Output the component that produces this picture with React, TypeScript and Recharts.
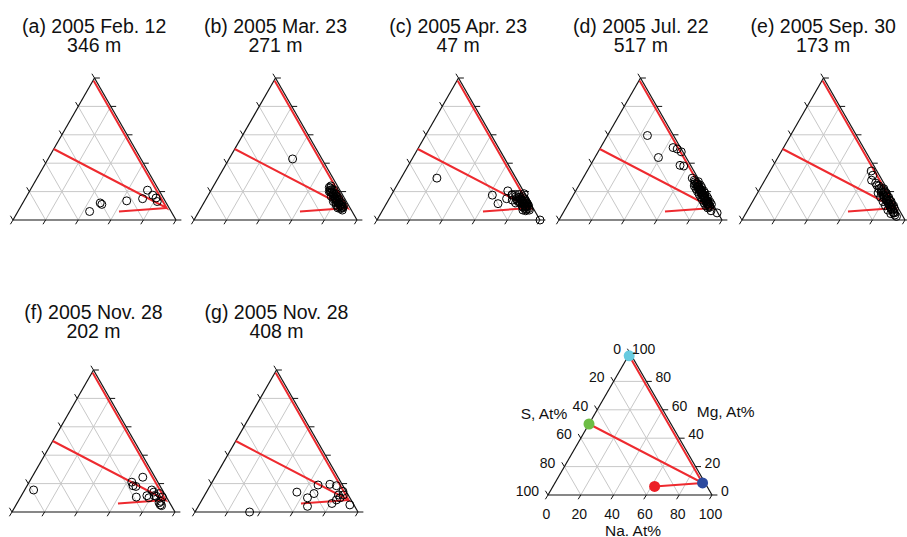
import React from "react";
import { ScatterChart, Scatter, XAxis, YAxis, ReferenceLine } from "recharts";

// composition triples: [Na, Mg, S] in at%
type Comp = [number, number, number];

const panelTitles = [
  "(a) 2005 Feb. 12",
  "(b) 2005 Mar. 23",
  "(c) 2005 Apr. 23",
  "(d) 2005 Jul. 22",
  "(e) 2005 Sep. 30",
  "(f) 2005 Nov. 28",
  "(g) 2005 Nov. 28",
];
const panelDepths = ["346 m", "271 m", "47 m", "517 m", "173 m", "202 m", "408 m"];

const samplesA: Comp[] = [
  [44, 6, 50], [47.5, 12, 40.5], [49, 11, 40], [63, 13.5, 23.5], [72, 15, 13],
  [72, 21, 7], [77, 17.5, 5.5], [80, 15.5, 4.5], [82, 13, 5],
];

const samplesB: Comp[] = [
  [39, 43, 18],
  [71.5, 23, 5.5], [72.5, 22.5, 5], [73, 21, 6], [74.5, 20, 5.5], [75, 19, 6], [76.5, 18, 5.5],
  [77, 17, 6], [78.5, 16, 5.5], [79, 15, 6], [80.5, 14, 5.5], [81, 13, 6], [82.5, 12, 5.5],
  [83, 11.5, 5.5], [84.5, 10.5, 5], [85, 10, 5], [86.5, 9, 4.5], [87, 8.5, 4.5], [86, 8, 6],
  [73, 20, 7], [76, 16.5, 7.5], [79, 13, 8], [82, 10.5, 7.5], [84, 8.5, 7.5], [75.5, 21, 3.5],
  [78, 18.5, 3.5], [81, 15.5, 3.5], [84, 12.5, 3.5], [87, 9.5, 3.5], [72, 24, 4],
  [74, 21.5, 4.5], [77.5, 18, 4.5], [80, 15, 5], [83, 12.5, 4.5], [85.5, 10, 4.5], [78, 15, 7],
  [81, 12, 7], [83.5, 9.5, 7], [76, 19, 5], [79.5, 16.5, 4], [82, 14, 4], [85, 11.5, 3.5],
  [87.5, 7, 5.5], [74, 19.5, 6.5],
];

const samplesC: Comp[] = [
  [22, 29.5, 48.5], [62, 17.5, 20.5], [68.5, 11.5, 20], [70, 20.5, 9.5], [72, 15, 13],
  [74, 17.5, 8.5], [79, 12, 9], [81, 18.5, 0.5], [88, 6.5, 5.5], [100, 0, 0],
  [80, 16, 4], [82, 14, 4], [84, 12, 4], [86, 10, 4], [83, 13, 4], [81, 14.5, 4.5], [79, 16, 5],
  [85, 9, 6], [87, 8, 5], [88, 7.5, 4.5], [84, 10, 6], [82, 12, 6], [80, 13, 7], [78, 15, 7],
  [83, 15, 2], [85, 13, 2], [86, 12, 2], [88, 10, 2], [87, 11, 2], [89, 8, 3], [90, 7, 3],
  [78, 18, 4], [76, 18, 6], [77, 16.5, 6.5], [81, 16.5, 2.5], [74, 18, 8], [76, 14, 10], [86, 7, 7],
  [80.5, 15, 4.5], [82.5, 13, 4.5], [84.5, 11, 4.5], [86.5, 9, 4.5], [83.5, 11.5, 5], [81.5, 12.5, 6],
  [85, 12, 3], [87, 9.5, 3.5], [79, 14, 7], [84, 14, 2],
];

const samplesD: Comp[] = [
  [24.5, 59.5, 16], [39, 44, 17], [44.5, 51, 4.5], [47.5, 50, 2.5], [51, 48, 1], [55, 38.5, 6.5],
  [57.5, 38, 4.5], [67, 29.5, 3.5], [69, 28, 3], [90, 6.5, 3.5], [94.5, 5, 0.5],
  [70, 27, 3], [71.5, 26, 2.5], [72, 25, 3], [73.5, 24, 2.5], [74, 23, 3], [75.5, 22, 2.5],
  [76, 21, 3], [77.5, 20, 2.5], [78, 19, 3], [79.5, 18, 2.5], [80, 17, 3], [81.5, 16, 2.5],
  [82, 15, 3], [83.5, 14, 2.5], [84, 13, 3], [85.5, 12, 2.5], [86, 11, 3], [87.5, 10, 2.5],
  [88, 9, 3], [72, 27, 1], [74.5, 24.5, 1], [76, 23, 1], [78.5, 20.5, 1], [80, 19, 1],
  [82.5, 16.5, 1], [84, 15, 1], [86.5, 12.5, 1], [88, 11, 1], [71, 24, 5], [73, 22, 5],
  [75, 20, 5], [77, 18, 5], [79, 16, 5], [81, 14, 5], [83, 12, 5], [85, 10, 5], [87, 8.5, 4.5],
  [70.5, 25.5, 4], [73, 23.5, 3.5], [75, 21.5, 3.5], [77, 19.5, 3.5], [79, 17.5, 3.5],
  [81, 15.5, 3.5], [83, 13.5, 3.5], [85, 11.5, 3.5], [87, 9.5, 3.5], [73, 25, 2], [77, 21, 2],
  [81, 17, 2], [85, 13, 2],
];

const samplesE: Comp[] = [
  [62, 34.5, 3.5], [64.5, 31.5, 4], [65.5, 28, 6.5], [69, 26, 5], [70.5, 24.5, 5], [72, 24, 4],
  [73, 22, 5], [74, 22.5, 3.5], [75, 21, 4], [76, 19, 5], [77, 19.5, 3.5], [78, 17.5, 4.5],
  [79, 16, 5], [80, 16.5, 3.5], [81, 15, 4], [82, 13.5, 4.5], [83, 13, 4], [84, 11.5, 4.5],
  [85, 11, 4], [86, 9.5, 4.5], [87, 9, 4], [88, 7.5, 4.5], [89, 7, 4], [90, 5.5, 4.5], [91, 5, 4],
  [92, 3.5, 4.5], [93.5, 2.5, 4], [76, 22, 2], [79, 19, 2], [82, 16, 2], [85, 13, 2], [88, 10, 2],
  [74, 19, 7], [77, 16, 7], [80, 13, 7], [83, 10, 7], [86, 7, 7], [89, 4.5, 6.5],
  [75.5, 20, 4.5], [78.5, 17, 4.5], [81.5, 14, 4.5], [84.5, 11, 4.5], [87.5, 8, 4.5],
  [90.5, 5, 4.5], [77.5, 20, 2.5], [80.5, 17, 2.5], [83.5, 14, 2.5], [86.5, 11, 2.5], [89.5, 8, 2.5],
];

const samplesF: Comp[] = [
  [5.5, 15.5, 79], [63, 21, 16], [65, 18.5, 16.5], [67, 18, 15], [68, 24.5, 7.5], [71, 10.5, 18.5],
  [77, 11.5, 11.5], [78, 15.5, 6.5], [81.5, 11.5, 7], [84, 13, 3], [87.5, 7.5, 5], [89.5, 4.5, 6],
  [83, 11, 6], [79, 10, 11], [80, 14, 6], [87, 10.5, 2.5], [87, 6.5, 6.5], [88.5, 5, 6.5],
];

const samplesG: Comp[] = [
  [33.5, 0, 66.5], [55.5, 14, 30.5], [64, 10, 26], [67, 4, 29], [66.5, 13, 20.5], [66, 19, 15],
  [73, 19.5, 7.5], [77.5, 18.5, 4], [81, 6, 13], [82, 12, 6], [84, 10, 6], [83.5, 14.5, 2],
  [92.5, 5, 2.5], [82.5, 8.5, 9], [85, 12, 3],
];

// tie-line end members (also the coloured markers of the key triangle)
const tieMg: Comp = [0.5, 98, 1.5];
const tieMgS: Comp = [0, 50, 50];
const tieNa2S: Comp = [62, 6, 32];
const tieAlloy: Comp = [90, 8.5, 1.5];

const keyPoints: Comp[] = [tieMg, tieMgS, tieNa2S, tieAlloy];
const keyColors = ["#67cbe0", "#6dbd45", "#ec1f27", "#2c4a9f"];

const axisTicks = [0, 20, 40, 60, 80, 100];
const gridSteps = [20, 40, 60, 80];

const RED = "#ee2a2f";
const GRID = "#c8c8c8";
const FONT = 'Arial, "Liberation Sans", Helvetica, sans-serif';

// ternary -> cartesian (x along Na axis, y = Mg height)
const toXY = (c: Comp) => {
  const t = c[0] + c[1] + c[2];
  const na = (c[0] / t) * 100;
  const mg = (c[1] / t) * 100;
  return { x: na + mg / 2, y: mg };
};

const seg = (a: Comp, b: Comp) => {
  const p = toXY(a);
  const q = toXY(b);
  return [{ x: p.x, y: p.y }, { x: q.x, y: q.y }];
};

const ring = (p: any) => (
  <circle cx={p.cx} cy={p.cy} r={4} fill="none" stroke="#000" strokeWidth={1} />
);
const noShape = () => <g />;

function TernaryPanel({ left, top, samples, keyPanel }: { left: number; top: number; samples?: Comp[]; keyPanel?: boolean }) {
  const margin = keyPanel
    ? { left: 50, right: 60, top: 20, bottom: 42 }
    : { left: 10, right: 10, top: 10, bottom: 10 };
  const plotW = keyPanel ? 164 : 163;
  const plotH = 142;
  const width = plotW + margin.left + margin.right;
  const height = plotH + margin.top + margin.bottom;

  const lines: { pts: { x: number; y: number }[]; color: string; w: number }[] = [];
  gridSteps.forEach((v) => {
    lines.push({ pts: seg([0, v, 100 - v], [100 - v, v, 0]), color: GRID, w: 1 });
    lines.push({ pts: seg([v, 0, 100 - v], [v, 100 - v, 0]), color: GRID, w: 1 });
    lines.push({ pts: seg([100 - v, 0, v], [0, 100 - v, v]), color: GRID, w: 1 });
  });
  lines.push({ pts: seg([0, 0, 100], [100, 0, 0]), color: "#111", w: 1.2 });
  lines.push({ pts: seg([0, 0, 100], [0, 100, 0]), color: "#111", w: 1.2 });
  lines.push({ pts: seg([100, 0, 0], [0, 100, 0]), color: "#111", w: 1.2 });
  axisTicks.forEach((v) => {
    const b = toXY([v, 0, 100 - v]);
    lines.push({ pts: [b, { x: b.x - 1.6, y: b.y - 3.0 }], color: "#111", w: 1 });
    const r = toXY([100 - v, v, 0]);
    lines.push({ pts: [r, { x: r.x + 3.3, y: r.y }], color: "#111", w: 1 });
    const l = toXY([0, 100 - v, v]);
    lines.push({ pts: [l, { x: l.x - 1.6, y: l.y + 3.0 }], color: "#111", w: 1 });
  });

  const labels: any[] = [];
  if (keyPanel) {
    axisTicks.forEach((v) => {
      labels.push({ ...toXY([v, 0, 100 - v]), text: String(v), side: "bottom" });
      labels.push({ ...toXY([100 - v, v, 0]), text: String(v), side: v === 100 ? "rightTop" : "right" });
      labels.push({ ...toXY([0, 100 - v, v]), text: String(v), side: "left" });
    });
    labels.push({ ...toXY([0, 60, 40]), text: "S, At%", side: "sTitle" });
    labels.push({ ...toXY([40, 60, 0]), text: "Mg, At%", side: "mgTitle" });
    labels.push({ ...toXY([50, 0, 50]), text: "Na. At%", side: "naTitle" });
  }

  const labelShape = (p: any) => {
    const s = p.payload.side;
    let dx = 0, dy = 0, anchor: any = "middle", size = 14;
    if (s === "bottom") { dx = -1.5; dy = 24; }
    if (s === "right") { dx = 9; dy = 1; anchor = "start"; }
    if (s === "rightTop") { dx = 2; dy = 1; anchor = "start"; }
    if (s === "left") { dx = -9; dy = 1; anchor = "end"; }
    if (s === "sTitle") { dx = -30; dy = 9; anchor = "end"; size = 15.5; }
    if (s === "mgTitle") { dx = 34; dy = 7; anchor = "start"; size = 15.5; }
    if (s === "naTitle") { dx = 3; dy = 40.5; size = 15.5; }
    return (
      <text x={p.cx + dx} y={p.cy + dy} textAnchor={anchor} fontSize={size} fontFamily={FONT} fill="#111">
        {p.payload.text}
      </text>
    );
  };

  const keyShape = (p: any) => (
    <circle cx={p.cx} cy={p.cy} r={5.5} fill={keyColors[p.payload.idx]} stroke="none" />
  );

  return (
    <div style={{ position: "absolute", left, top }}>
      <ScatterChart width={width} height={height} margin={margin}>
        <XAxis type="number" dataKey="x" domain={[0, 100]} hide />
        <YAxis type="number" dataKey="y" domain={[0, 100]} hide />
        {lines.map((ln, i) => (
          <ReferenceLine key={i} segment={ln.pts} stroke={ln.color} strokeWidth={ln.w} ifOverflow="visible" />
        ))}
        <Scatter data={[tieMg, tieAlloy, tieMgS].map(toXY)} line={{ stroke: RED, strokeWidth: 2 }} shape={noShape} isAnimationActive={false} />
        <Scatter data={[tieAlloy, tieNa2S].map(toXY)} line={{ stroke: RED, strokeWidth: 2 }} shape={noShape} isAnimationActive={false} />
        {samples && <Scatter data={samples.map(toXY)} shape={ring} isAnimationActive={false} />}
        {keyPanel && (
          <Scatter data={keyPoints.map((c, idx) => ({ ...toXY(c), idx }))} shape={keyShape} isAnimationActive={false} />
        )}
        {keyPanel && <Scatter data={labels} shape={labelShape} isAnimationActive={false} />}
      </ScatterChart>
    </div>
  );
}

const panelSamples = [samplesA, samplesB, samplesC, samplesD, samplesE, samplesF, samplesG];
const panelPos = [
  { x: 12.7, y: 220 },
  { x: 194, y: 220 },
  { x: 376.7, y: 220 },
  { x: 559.3, y: 220 },
  { x: 741.7, y: 220 },
  { x: 12, y: 512.3 },
  { x: 195, y: 512.3 },
];

export default function App() {
  return (
    <div style={{ position: "absolute", left: 0, top: 0, width: 907, height: 537, overflow: "hidden", background: "#fff", fontFamily: FONT }}>
      {panelSamples.map((s, i) => {
        const p = panelPos[i];
        const titleTop = i < 5 ? 16.6 : 302.6;
        return (
          <React.Fragment key={i}>
            <div style={{ position: "absolute", left: p.x - 30, top: titleTop, width: 223, textAlign: "center", fontSize: 19.5, lineHeight: "19.6px", color: "#111" }}>
              <div>{panelTitles[i]}</div>
              <div>{panelDepths[i]}</div>
            </div>
            <TernaryPanel left={p.x - 10} top={p.y - 152} samples={s} />
          </React.Fragment>
        );
      })}
      <TernaryPanel left={498.3} top={333} keyPanel />
    </div>
  );
}
